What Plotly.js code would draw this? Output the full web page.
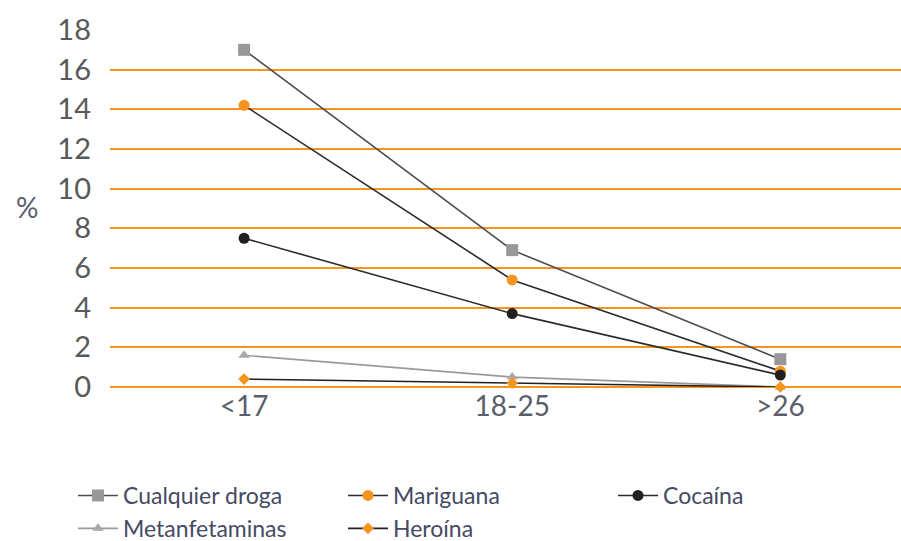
<!DOCTYPE html>
<html>
<head>
<meta charset="utf-8">
<script src="https://cdn.plot.ly/plotly-3.0.1.min.js"></script>
<style>
  html, body { margin: 0; padding: 0; background: #fff; }
  #chart { width: 901px; height: 541px; }
</style>
</head>
<body>
<div id="chart"></div>
<script>
// Age groups on the x axis
const grupos = ['<17', '18-25', '>26'];

// Prevalence (%) by substance and age group
const cualquierDroga = [17.0, 6.9, 1.4];
const mariguana      = [14.2, 5.4, 0.8];
const cocaina        = [7.5, 3.7, 0.6];
const metanfetaminas = [1.6, 0.5, 0.0];
const heroina        = [0.4, 0.2, 0.0];

const yTicks = [0, 2, 4, 6, 8, 10, 12, 14, 16, 18];

const ORANGE = '#f7941d';
const FONT = 'Lato, "Open Sans", sans-serif';

// Plot-area geometry (pixels)
const W = 901, H = 541, M_L = 110, M_T = 30, M_B = 154;
const plotH = H - M_T - M_B;
const pxToPaperY = px => (H - M_B - px) / plotH;
const pxToPaperX = px => (px - M_L) / (W - M_L);

function serie(name, y, lineColor, symbol, markerColor, size) {
  return {
    type: 'scatter', mode: 'lines+markers', name: name,
    x: grupos, y: y, cliponaxis: false,
    line: { color: lineColor, width: 1.6 },
    marker: { symbol: symbol, color: markerColor, size: size }
  };
}

const data = [
  serie('Cualquier droga', cualquierDroga, '#4d4d4f', 'square', '#97989b', 12),
  serie('Mariguana', mariguana, '#2b2b2b', 'circle', ORANGE, 11),
  serie('Cocaína', cocaina, '#2b2b2b', 'circle', '#231f20', 11),
  serie('Metanfetaminas', metanfetaminas, '#9a9a9c', 'triangle-up', '#a7a8aa', 10),
  serie('Heroína', heroina, '#231f20', 'diamond', ORANGE, 9)
];

const layout = {
  width: W, height: H,
  margin: { l: M_L, r: 0, t: M_T, b: M_B, autoexpand: false },
  paper_bgcolor: '#fff', plot_bgcolor: '#fff',
  showlegend: true,
  font: { family: FONT, color: '#58595b' },
  xaxis: {
    type: 'category', range: [-0.5, 2.45],
    showgrid: false, zeroline: false, showline: false, ticks: '',
    tickfont: { size: 28, color: '#5a5e6b' }
  },
  yaxis: {
    range: [0, 18],
    tickvals: yTicks, ticktext: yTicks.map(String),
    showgrid: true, gridcolor: ORANGE, gridwidth: 2,
    zeroline: true, zerolinecolor: ORANGE, zerolinewidth: 2,
    showline: false, ticks: '', ticklabelstandoff: 18,
    tickfont: { size: 29, color: '#58595b' }
  },
  annotations: [{
    text: '%', xref: 'paper', yref: 'paper', x: pxToPaperX(27),
    y: pxToPaperY(207),
    xanchor: 'center', yanchor: 'middle', showarrow: false,
    font: { size: 28, color: '#5a5e6b', family: FONT }
  }],
  legend: {
    orientation: 'h', x: pxToPaperX(73), y: pxToPaperY(474),
    xanchor: 'left', yanchor: 'top',
    entrywidth: 215, entrywidthmode: 'pixels', tracegroupgap: 0,
    itemwidth: 40,
    font: { size: 23, color: '#464a63', family: FONT },
    bgcolor: 'rgba(0,0,0,0)'
  }
};

Plotly.newPlot('chart', data, layout, { staticPlot: true });
</script>
</body>
</html>
